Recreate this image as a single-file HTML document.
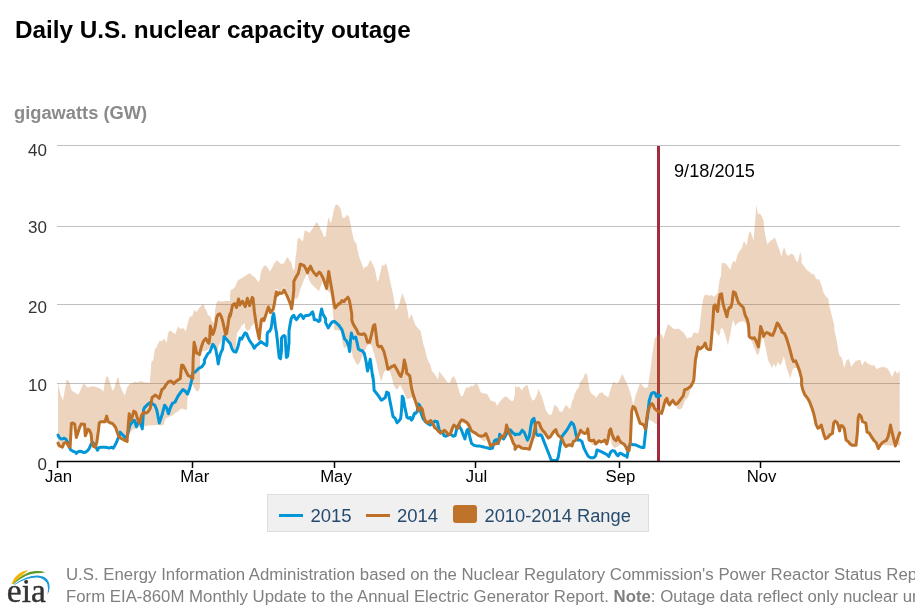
<!DOCTYPE html>
<html><head><meta charset="utf-8">
<style>
html,body{margin:0;padding:0;background:#fff;}
body{width:915px;height:610px;overflow:hidden;position:relative;font-family:"Liberation Sans",sans-serif;}
#wrap{position:absolute;left:0;top:0;width:915px;height:610px;opacity:0.999;will-change:transform;}
.t{position:absolute;white-space:nowrap;}
#title{left:15px;top:16px;font-size:24.3px;font-weight:bold;color:#000;}
#unit{left:14px;top:102px;font-size:18.3px;font-weight:bold;color:#8a8a8a;}
.yl{position:absolute;right:869px;font-size:17px;color:#333;text-align:right;}
.xl{position:absolute;top:466px;font-size:17px;color:#000;}
#legend{position:absolute;left:267px;top:494px;width:382px;height:38px;background:#f0f0f0;border:1px solid #dedede;box-sizing:border-box;}
.lg{position:absolute;font-size:18.5px;color:#274b6d;top:10px;}
#foot{position:absolute;left:66px;top:564px;font-size:16.8px;color:#7f7f7f;line-height:22px;white-space:nowrap;}
</style></head><body>
<div id="wrap">
<div class="t" id="title">Daily U.S. nuclear capacity outage</div>
<div class="t" id="unit">gigawatts (GW)</div>
<svg width="915" height="610" style="position:absolute;left:0;top:0">
<g stroke="#c0c0c0" stroke-width="1">
<line x1="57" y1="145.5" x2="900" y2="145.5"/>
<line x1="57" y1="226.5" x2="900" y2="226.5"/>
<line x1="57" y1="304.5" x2="900" y2="304.5"/>
<line x1="57" y1="383.5" x2="900" y2="383.5"/>
</g>
<rect x="657" y="146" width="3" height="316" fill="#a32b3d"/>
<g id="band"><polygon points="58.0,383.3 58.6,386.6 60.7,394.8 62.9,400.5 64.8,389.9 66.5,380.0 67.8,380.0 69.8,383.3 71.4,389.9 73.0,391.5 75.5,393.1 78.0,394.8 79.6,392.3 82.0,386.6 83.7,383.3 85.3,385.0 87.8,387.4 91.1,386.6 94.3,386.6 97.6,387.4 100.9,389.0 103.4,391.5 105.0,381.7 106.6,375.9 108.3,377.6 110.7,385.0 112.4,390.7 114.0,389.0 115.7,383.3 117.3,378.4 118.6,377.6 119.8,385.0 122.2,390.7 124.7,395.6 127.1,387.4 129.6,384.1 132.0,383.3 135.3,381.7 137.8,382.5 140.2,380.9 142.7,381.7 145.2,382.5 147.6,382.5 149.8,383.3 151.4,362.0 153.3,360.0 154.8,349.2 156.2,347.7 158.2,343.3 159.7,340.8 161.1,341.3 162.6,340.3 164.1,338.4 165.6,341.3 166.6,342.8 168.0,333.4 169.5,330.5 171.5,331.5 173.4,332.9 175.4,333.9 176.9,329.5 178.4,326.6 179.8,328.5 181.3,329.0 182.8,327.5 184.3,329.5 185.7,331.5 187.2,325.6 188.7,319.7 190.2,315.7 191.1,316.7 192.6,315.7 193.6,311.8 194.6,309.8 196.1,312.3 197.5,310.8 199.0,308.4 201.0,305.9 202.5,303.9 203.9,304.9 205.4,308.9 206.9,311.8 207.9,314.8 209.3,315.7 210.8,317.2 212.3,321.6 213.8,322.6 215.2,309.8 216.2,303.9 217.2,301.5 218.7,301.0 221.6,301.5 224.6,301.0 228.5,301.0 230.0,301.0 230.0,294.4 230.7,290.5 232.0,289.2 233.9,288.5 235.9,285.2 237.2,281.3 238.5,280.0 250.0,273.1 252.0,275.6 253.9,276.6 255.9,278.5 258.4,282.5 259.8,279.5 260.8,272.6 262.3,268.7 263.8,266.2 265.7,265.2 267.7,267.7 269.7,271.6 271.6,268.7 273.6,264.8 275.6,261.8 277.0,260.3 278.5,261.8 280.5,263.8 283.4,263.8 284.9,261.8 286.4,257.9 287.9,257.4 289.3,259.8 291.3,262.8 293.3,270.7 294.8,267.7 295.7,255.9 296.7,250.0 296.7,248.3 297.5,239.6 298.9,237.6 300.8,239.6 302.8,241.6 304.8,230.4 306.7,231.1 309.3,233.0 311.3,230.4 313.9,226.5 316.6,221.9 318.5,224.5 320.5,229.1 322.5,233.0 323.8,237.0 325.7,236.3 327.0,226.5 328.4,217.3 329.7,220.6 330.3,223.2 331.6,221.2 333.6,210.7 335.6,204.8 337.5,204.8 339.5,206.8 340.0,208.8 340.0,206.8 341.3,212.0 342.6,218.0 344.6,218.0 346.6,215.3 347.9,215.3 349.2,217.3 350.5,223.9 351.8,230.4 353.1,237.0 354.4,240.9 356.4,243.5 357.7,251.4 357.7,250.0 359.0,256.6 361.0,261.8 363.6,269.0 364.9,267.0 366.9,266.4 368.2,264.4 370.2,259.8 372.1,263.1 374.8,268.4 376.1,274.9 377.4,282.1 378.7,279.5 380.7,271.0 382.0,265.1 383.9,265.7 385.9,263.1 387.2,267.0 389.2,276.2 391.1,285.4 393.1,294.6 394.4,302.5 395.7,310.3 397.7,307.7 399.7,302.5 402.3,293.3 404.3,298.5 406.2,303.8 407.5,310.3 408.9,319.5 411.5,314.3 411.6,314.6 411.6,314.4 412.6,317.0 414.6,323.6 417.2,327.5 420.5,330.8 421.8,336.7 423.1,343.3 425.1,349.8 427.0,357.7 428.4,361.6 430.3,364.3 431.5,368.9 431.5,370.0 433.4,372.6 435.4,375.2 438.0,379.2 439.3,371.3 441.3,373.9 443.9,377.2 445.9,379.8 447.9,383.1 449.8,382.5 451.8,377.9 453.8,375.9 455.7,379.8 457.7,385.7 459.7,393.0 461.0,396.2 463.0,395.6 464.9,390.3 466.9,387.0 468.9,387.7 470.8,385.7 472.8,386.4 474.8,384.4 476.7,383.1 478.7,387.0 480.7,392.3 483.3,393.6 486.6,393.6 488.5,396.2 490.5,400.2 493.1,401.5 495.1,401.5 497.0,406.1 499.0,402.8 501.0,400.2 503.6,397.5 505.6,396.2 507.5,397.5 509.5,399.5 512.1,401.5 513.4,400.2 515.0,393.9 515.0,385.7 517.0,387.6 518.9,386.3 521.6,390.2 523.5,387.6 525.5,385.7 527.5,385.0 528.8,390.2 530.7,396.8 532.7,400.7 534.7,399.4 536.6,395.5 538.6,388.9 539.9,392.2 541.9,396.8 543.9,403.4 545.8,409.9 547.8,413.2 549.8,415.2 551.7,413.9 553.0,409.9 554.3,404.7 557.0,406.6 559.6,411.2 562.2,411.9 564.2,408.0 566.1,404.7 568.1,407.3 570.1,409.3 572.0,402.0 573.1,398.5 573.1,400.7 574.4,394.8 576.4,390.2 578.4,388.2 580.3,381.6 581.6,380.3 583.6,377.7 584.9,373.8 586.9,373.8 588.2,381.6 589.5,389.5 590.8,392.8 592.8,394.8 594.8,396.1 596.1,398.0 598.0,394.8 600.0,392.8 600.0,393.0 602.3,392.3 604.6,394.9 608.2,397.5 609.8,392.3 611.5,386.4 613.1,382.1 615.7,383.1 617.4,383.8 619.0,381.1 621.0,376.6 622.3,373.9 623.9,377.2 626.2,382.1 628.2,386.4 630.2,392.3 632.1,399.5 633.4,405.4 634.4,400.8 635.7,394.9 637.7,389.7 639.3,385.1 640.7,383.1 642.0,385.1 643.9,387.4 645.9,388.0 647.5,387.4 648.5,383.1 649.5,375.2 650.2,370.0 650.2,371.8 650.5,369.8 651.8,358.0 653.1,348.9 654.4,339.7 655.7,337.0 657.7,335.7 659.7,334.4 660.0,334.3 660.0,333.8 662.0,335.1 663.3,339.0 665.2,332.5 667.2,325.9 668.5,323.9 670.5,325.9 673.1,328.5 675.7,329.2 678.4,328.5 681.0,330.5 683.6,332.5 685.6,335.7 687.5,339.0 689.5,337.0 691.5,337.7 693.4,333.1 695.4,332.5 698.0,333.8 699.3,329.8 700.7,316.7 702.0,306.2 703.3,298.4 705.2,294.4 707.2,295.1 709.8,295.7 711.8,295.1 713.8,297.0 715.1,295.7 717.7,293.1 719.7,279.3 721.0,275.7 721.6,263.2 724.3,262.9 726.2,263.9 728.2,266.5 730.4,269.8 732.1,263.2 733.8,260.6 735.4,262.5 737.4,255.3 739.3,251.4 742.0,248.1 743.9,240.9 745.2,242.9 746.6,245.5 747.9,238.3 749.4,231.1 751.1,233.0 752.5,237.0 753.5,241.6 755.1,221.2 756.4,204.8 757.7,213.4 760.3,214.0 762.3,217.3 763.6,221.2 764.3,229.1 765.6,237.0 767.5,244.8 769.5,241.6 771.5,240.2 773.4,238.9 774.8,237.6 776.1,240.9 778.0,246.1 780.0,251.4 781.6,256.6 782.6,251.4 784.2,246.8 785.9,252.7 787.9,256.0 789.8,254.7 791.8,253.4 793.8,255.3 795.7,259.9 797.7,262.5 799.0,257.3 800.3,252.0 801.5,257.2 801.5,262.6 804.1,266.6 806.7,269.8 809.3,271.8 812.0,274.4 813.9,273.8 815.9,278.4 817.2,279.7 818.5,278.4 819.8,281.0 821.8,286.2 823.1,291.5 825.1,295.4 827.0,297.4 828.4,298.7 829.0,304.6 830.3,309.8 832.3,317.7 834.3,325.6 834.3,330.0 835.6,335.2 836.9,341.8 838.2,349.7 839.5,355.6 841.5,357.5 842.8,361.5 844.1,368.0 845.4,364.1 846.7,360.2 848.7,358.9 850.0,362.8 851.3,366.7 853.3,364.1 855.0,361.8 855.0,361.5 857.0,360.5 859.9,359.5 860.9,361.5 862.2,365.7 863.5,363.1 865.2,360.5 866.5,362.5 868.1,363.8 870.7,365.1 872.4,365.7 874.0,364.4 875.0,366.4 876.3,368.7 878.0,368.4 879.9,367.4 882.5,367.0 885.8,367.4 887.8,368.7 889.1,371.0 890.7,374.3 892.4,376.9 893.7,373.6 895.0,370.3 896.3,372.3 897.6,373.9 898.9,371.6 899.7,371.0 899.7,446.0 898.0,445.3 896.6,443.4 895.3,446.6 894.0,440.7 892.7,445.6 889.4,445.6 885.5,445.3 882.2,444.7 880.2,446.0 878.3,449.3 876.3,443.4 873.7,440.7 871.1,436.8 869.1,433.5 867.1,432.9 865.8,423.7 864.5,423.0 862.5,422.4 861.2,417.1 859.3,415.2 858.2,418.4 857.3,434.2 856.0,446.0 854.0,446.0 852.0,446.0 850.1,444.7 848.1,442.0 846.1,440.7 844.2,428.9 842.2,426.3 840.6,426.3 839.6,431.6 838.3,426.3 837.0,423.0 835.0,421.7 833.7,423.7 832.4,434.2 829.8,435.5 827.8,438.1 825.4,439.4 823.9,435.5 822.5,430.2 821.2,425.7 819.9,427.6 818.0,428.9 816.0,425.0 814.7,418.4 813.4,413.2 811.4,407.3 809.4,402.0 807.5,398.8 804.8,395.5 802.9,390.9 801.6,385.7 801.6,383.8 800.8,379.8 798.9,372.0 796.9,368.0 794.9,368.0 793.0,368.7 791.6,373.3 790.3,378.5 789.0,374.6 787.0,369.3 785.1,361.5 783.8,356.2 781.8,362.8 779.8,365.4 777.9,361.5 775.9,367.4 773.9,363.4 772.0,368.0 770.0,363.4 768.2,360.7 766.2,350.8 764.3,341.6 763.0,337.0 761.6,340.3 760.3,348.2 758.4,354.8 756.7,354.1 754.4,348.2 751.8,341.6 749.2,337.7 747.6,328.5 745.9,323.3 743.9,320.9 740.0,321.7 737.4,323.3 735.4,325.9 733.2,320.0 731.9,324.6 730.2,335.1 727.9,345.6 725.6,336.4 723.0,329.2 721.0,327.9 719.7,335.1 718.4,335.7 715.7,331.1 713.8,329.8 712.5,335.1 710.5,350.8 707.2,350.2 705.2,345.6 702.0,349.5 699.3,350.2 698.0,353.4 693.8,380.3 692.5,384.2 690.5,389.4 689.2,394.4 687.2,398.4 685.2,399.7 683.9,403.0 682.0,408.2 679.3,409.5 677.4,408.6 675.4,405.2 672.8,401.2 670.2,405.2 667.5,403.9 665.6,401.2 663.6,409.1 661.6,414.1 659.7,413.4 657.3,423.3 655.7,423.9 653.1,422.0 651.1,420.7 649.2,419.3 647.2,422.0 645.9,429.6 643.9,425.9 640.0,424.6 635.0,408.6 633.0,407.3 631.7,411.9 630.4,442.0 629.1,451.2 627.1,450.6 623.9,444.7 621.2,443.4 618.0,446.6 614.7,448.0 612.0,445.3 609.4,431.6 606.8,444.7 604.8,440.7 598.9,441.4 595.7,444.7 592.4,444.7 589.1,440.7 587.8,429.6 584.5,434.2 580.6,430.9 577.3,438.1 573.4,442.0 570.1,445.3 566.1,447.3 564.2,444.7 560.2,437.5 555.9,430.2 552.4,434.2 548.4,438.8 546.5,436.1 545.2,434.8 543.2,434.8 541.2,435.5 538.0,436.8 536.0,437.5 534.0,438.8 531.4,443.4 529.4,449.9 524.2,449.3 518.9,446.6 515.0,449.9 515.0,446.0 512.8,443.4 508.9,433.0 506.2,430.3 503.6,438.2 499.7,440.8 494.4,445.4 490.5,447.4 487.2,439.5 483.9,441.5 478.7,436.9 473.4,434.3 469.5,429.0 465.6,423.8 461.6,422.5 459.0,427.7 455.1,427.7 451.1,434.3 447.2,434.3 443.3,433.0 439.3,433.0 435.4,429.0 431.5,422.5 426.2,423.1 423.6,417.2 421.0,409.3 417.7,410.7 415.1,402.1 412.5,397.5 409.8,398.2 407.2,399.5 403.9,392.3 400.0,384.4 400.0,384.6 399.7,384.9 398.4,388.2 396.4,389.5 393.8,385.6 391.8,377.7 389.8,371.1 387.9,369.8 385.2,370.5 383.3,373.8 381.6,381.6 380.7,379.7 378.7,372.5 376.1,360.7 373.4,351.5 371.5,344.9 368.9,344.3 366.9,346.2 364.3,352.1 361.6,358.0 359.7,362.6 357.7,365.2 355.7,362.6 353.1,357.4 351.1,348.9 348.5,345.6 345.9,346.9 343.9,348.2 342.0,339.7 340.7,330.5 334.1,330.0 333.4,318.2 332.5,309.0 331.5,299.8 330.2,293.3 327.5,290.7 325.6,289.3 323.8,284.8 323.8,279.5 321.8,283.4 319.8,288.4 318.9,291.3 316.9,289.3 313.9,286.4 311.0,283.4 309.0,279.5 307.5,274.6 306.1,275.6 304.1,279.5 302.1,284.4 300.2,289.3 298.2,297.2 296.2,299.2 293.3,297.2 291.6,306.0 289.6,297.5 287.6,293.1 285.7,289.2 284.2,286.7 282.2,293.1 279.8,291.2 276.3,288.7 274.8,290.0 273.2,309.2 270.6,311.9 268.9,306.6 266.2,313.6 263.6,319.7 261.0,318.9 259.2,339.0 256.5,325.0 256.2,324.1 256.2,322.0 254.9,323.3 253.0,324.6 251.6,325.9 249.7,329.8 247.7,331.1 246.4,329.8 245.0,327.8 245.0,323.3 242.0,325.2 239.4,329.8 237.1,333.1 236.4,338.4 235.8,348.9 234.1,349.5 230.8,344.9 227.6,339.0 224.3,335.7 223.0,337.7 221.0,341.7 219.0,344.9 217.1,350.8 215.1,347.6 211.8,345.6 206.6,350.8 200.0,351.5 200.0,386.2 199.3,389.5 198.0,391.5 196.1,390.8 194.1,387.5 192.8,384.9 190.8,385.6 188.2,386.2 187.5,399.3 186.9,409.8 184.3,409.6 181.6,408.5 179.7,409.8 177.7,411.8 175.1,413.1 173.1,415.1 171.8,415.7 169.8,416.4 167.2,417.7 165.2,419.0 163.9,424.3 162.0,425.6 158.0,424.9 154.1,425.3 150.2,425.6 148.2,425.6 144.9,426.2 141.0,426.9 137.0,427.5 134.4,428.9 131.8,430.2 129.8,433.4 127.9,438.7 125.2,438.7 120.0,438.7 120.0,438.3 118.9,437.2 117.3,433.1 115.7,428.2 114.0,425.8 112.4,424.1 109.9,423.3 108.3,422.5 106.6,416.8 105.0,422.5 103.4,422.5 100.9,422.5 99.3,423.3 98.4,431.5 96.8,443.0 95.2,447.9 93.5,447.1 91.9,443.0 91.1,434.8 89.4,430.7 87.8,429.9 86.1,434.8 85.3,436.4 84.5,425.0 82.9,425.0 81.2,424.6 79.6,428.2 78.0,433.1 76.3,438.1 74.7,425.0 73.0,423.6 71.4,424.1 70.1,447.9 68.9,447.1 67.3,444.6 65.7,443.0 64.0,443.8 62.4,447.9 60.7,447.1 59.1,446.3 58.0,443.8" fill="#c07028" fill-opacity="0.3"/></g>
<g id="l2015"><polyline points="58.0,435.0 59.1,437.4 60.7,438.7 62.4,439.0 64.0,438.2 65.7,439.0 67.3,441.5 68.9,446.4 70.6,449.7 73.0,451.3 75.5,452.2 76.3,453.5 78.0,451.8 80.4,451.3 82.0,451.8 83.7,452.5 85.3,452.2 87.8,450.5 89.4,448.1 91.1,444.0 92.7,442.3 94.3,444.8 96.0,447.2 97.6,450.2 98.9,447.6 100.9,447.2 104.2,447.2 107.5,447.6 109.1,448.1 111.6,447.2 113.2,448.1 114.8,445.6 116.5,442.3 118.1,438.2 119.8,434.1 120.0,433.9 120.0,432.1 122.6,434.8 125.2,437.4 127.2,436.1 129.8,425.6 132.5,421.6 134.4,420.3 136.4,426.9 138.4,421.6 141.0,424.3 142.3,428.9 143.6,409.8 144.3,407.9 146.2,405.9 148.2,403.9 150.2,402.6 152.8,403.9 154.8,405.2 156.7,409.8 159.3,423.0 162.0,415.1 164.6,405.2 166.6,407.9 168.5,413.8 170.5,407.2 172.5,403.3 175.1,402.0 177.7,396.7 180.3,392.8 183.0,389.5 185.6,391.5 187.5,394.1 189.5,388.9 191.5,381.0 192.8,373.1 195.4,371.8 198.7,368.5 202.0,366.6 203.9,363.9 204.4,363.0 204.4,360.0 204.9,359.0 207.9,353.6 209.8,352.1 211.3,348.2 212.8,344.3 214.3,346.2 215.7,349.2 217.2,357.0 218.2,363.9 219.5,357.0 221.1,352.1 222.6,349.2 224.1,336.4 225.6,338.4 227.5,340.3 229.0,342.3 230.0,343.3 230.0,342.9 232.0,348.9 233.9,351.5 235.9,352.1 237.9,346.9 239.8,339.0 240.0,338.9 240.0,338.1 241.7,339.0 243.5,335.5 245.2,332.8 246.6,333.7 247.9,337.2 249.6,340.7 250.3,341.6 252.3,344.3 254.3,348.2 256.2,345.6 258.2,344.3 260.8,341.6 262.8,343.0 264.8,344.3 266.7,345.6 267.1,342.1 267.1,334.6 268.0,332.0 269.7,331.1 271.0,328.5 271.9,323.2 272.8,316.2 273.7,313.6 274.5,318.9 275.4,326.7 276.7,333.7 276.7,335.7 277.2,339.0 279.2,357.4 280.5,358.7 281.5,350.4 281.5,338.1 282.8,336.3 284.2,335.5 285.0,337.2 285.0,336.4 285.1,336.4 286.4,357.4 287.7,356.1 289.0,342.7 289.0,331.1 290.3,323.2 291.1,318.9 292.5,316.2 293.8,315.4 295.1,318.0 296.4,319.7 297.7,318.0 299.5,315.4 300.8,314.5 302.1,316.2 303.4,318.4 304.7,316.2 306.4,315.4 308.2,315.4 309.9,314.9 311.7,312.7 312.6,311.9 313.4,314.5 314.3,319.7 315.6,319.7 316.9,320.2 318.7,321.5 320.0,320.6 320.0,317.0 320.3,315.6 321.6,309.0 323.0,314.3 324.9,317.5 325.6,318.9 325.6,322.6 328.2,327.9 330.2,324.6 332.1,322.0 334.1,321.3 336.7,323.3 339.3,325.9 342.0,329.8 343.3,334.4 344.6,339.0 346.6,341.0 348.5,345.6 349.6,351.5 350.5,339.7 351.4,333.1 352.5,337.0 353.8,338.4 355.7,337.0 357.0,342.3 358.4,348.9 360.3,350.2 362.3,350.8 364.3,353.4 366.2,362.0 367.5,371.1 368.9,365.9 370.2,359.3 371.5,368.5 372.7,377.1 372.7,375.0 373.6,382.2 374.1,390.3 376.3,393.0 379.0,396.6 381.3,400.2 383.5,398.9 385.3,397.5 386.7,392.1 388.5,393.0 389.8,400.2 391.6,409.3 393.0,416.5 395.2,418.3 397.1,422.8 398.9,421.0 400.7,418.3 401.6,409.3 402.3,396.2 403.4,398.4 404.7,406.6 406.1,412.9 407.0,417.4 408.8,418.3 410.1,417.4 411.5,420.1 412.8,418.3 414.2,413.8 415.0,412.9 415.0,414.0 415.7,413.3 417.0,412.0 418.4,404.1 419.7,405.4 421.0,413.3 423.0,418.5 425.6,421.8 428.2,423.8 430.2,425.1 432.1,423.8 434.8,421.1 437.4,421.8 439.3,430.3 440.7,433.0 442.6,431.6 443.9,435.6 445.9,436.2 448.5,434.9 451.1,434.3 453.1,436.2 455.1,435.6 457.0,427.7 458.4,425.1 461.0,429.0 463.0,434.3 464.9,438.9 466.9,430.3 468.2,429.0 469.5,435.6 471.5,443.4 474.1,445.4 477.4,446.1 480.0,446.1 482.6,446.7 485.2,447.4 487.9,448.0 490.5,448.7 492.5,448.0 494.4,440.8 496.4,439.5 498.4,443.4 499.7,434.3 501.6,436.9 503.6,438.9 505.6,435.6 506.9,433.0 508.9,429.7 510.8,430.3 512.8,433.0 515.0,434.1 515.0,434.8 517.0,434.2 519.6,434.2 522.2,430.2 524.2,432.2 526.1,436.8 527.5,440.1 529.4,436.1 530.7,427.0 532.0,420.4 534.0,418.4 535.3,425.7 536.0,433.5 538.0,435.5 540.6,434.8 541.9,436.1 543.9,441.4 546.5,448.0 549.1,454.5 551.1,459.8 553.0,460.4 555.0,460.4 557.0,460.4 558.3,457.1 559.6,449.3 560.9,441.4 562.2,436.1 564.2,433.5 566.8,430.2 569.4,425.7 571.4,422.4 573.4,424.3 574.7,428.3 576.0,434.8 578.0,440.1 579.9,440.1 581.9,441.4 583.9,448.0 586.5,453.2 588.4,456.5 591.1,457.8 593.7,457.8 595.7,455.8 597.0,449.9 598.9,450.6 601.6,451.9 604.2,453.2 606.8,454.5 608.8,456.5 610.7,451.9 612.7,450.6 614.7,451.2 616.6,454.5 618.0,455.8 619.9,453.2 621.9,453.9 623.9,455.2 625.8,455.8 627.1,457.1 628.4,448.0 630.4,444.0 633.0,444.7 635.0,444.7 640.0,446.9 642.0,447.5 643.9,447.5 645.2,435.1 646.6,423.3 647.9,412.8 649.2,401.0 650.5,396.4 651.8,393.1 653.8,392.5 655.1,393.1 656.4,396.4 657.7,397.0 659.0,395.1 660.3,395.7" fill="none" stroke="#0096d7" stroke-width="3" stroke-linejoin="round" stroke-linecap="round"/></g>
<g id="l2014"><polyline points="58.0,443.1 59.1,445.6 60.7,446.4 62.4,447.2 64.0,443.1 65.7,442.3 67.3,444.0 68.9,446.4 70.1,447.2 71.4,423.5 73.0,423.0 74.7,424.3 76.3,437.4 78.0,432.5 79.6,427.6 81.2,424.0 82.9,424.3 84.5,424.3 85.3,435.8 86.1,434.1 87.8,429.2 89.4,430.0 91.1,434.1 91.9,442.3 93.5,446.4 95.2,447.2 96.8,442.3 98.4,430.9 99.3,422.7 100.9,421.8 103.4,421.8 105.0,421.8 106.6,416.1 108.3,421.8 109.9,422.7 112.4,423.5 114.0,425.1 115.7,427.6 117.3,432.5 118.9,436.6 120.6,438.2 122.2,439.0 123.9,439.9 125.5,440.7 127.1,441.5 127.2,440.8 127.2,438.7 129.2,413.8 131.1,420.3 133.8,411.1 135.7,412.5 138.4,421.6 139.7,423.0 141.6,415.1 143.6,412.5 146.2,413.1 148.2,411.8 150.2,408.5 152.1,397.4 155.4,395.1 157.4,396.7 159.3,398.3 162.0,389.5 163.9,388.2 165.9,384.9 168.5,381.6 171.1,381.0 173.8,383.6 176.4,381.0 180.3,378.4 181.6,365.2 183.0,365.2 185.6,370.5 188.2,375.7 191.5,377.0 192.8,378.4 193.1,360.0 194.1,342.3 195.6,348.2 196.6,353.1 198.0,353.6 199.5,354.6 201.0,348.2 202.9,342.3 204.4,339.8 205.9,338.4 207.9,342.3 208.9,343.3 209.8,337.4 210.3,326.1 211.3,329.5 212.8,334.4 214.3,330.5 215.7,324.6 216.7,317.7 218.2,314.3 219.7,313.8 221.1,316.2 222.6,320.7 224.1,327.5 225.6,334.4 226.6,333.4 228.0,324.6 229.0,317.7 230.0,313.8 230.0,316.7 230.7,314.1 232.6,304.9 234.6,303.6 236.6,307.5 238.5,299.0 240.0,304.4 240.0,304.9 241.3,302.2 242.6,301.4 243.9,304.0 245.2,306.6 246.6,301.4 247.4,298.3 248.7,303.1 249.6,305.7 250.9,301.4 252.2,297.4 253.1,298.7 254.4,311.9 256.6,326.7 258.4,335.5 259.2,339.0 260.5,326.7 261.4,319.7 262.7,318.9 264.0,320.6 265.4,316.2 267.1,311.0 268.4,307.0 269.7,310.1 270.6,312.7 271.9,311.0 273.2,309.2 274.5,303.1 275.4,297.0 276.3,291.7 277.6,295.2 279.3,292.6 281.1,293.5 282.8,292.6 284.2,290.0 285.5,292.6 287.2,296.1 289.0,300.5 290.7,304.9 291.6,308.8 292.5,303.1 293.3,295.2 293.8,290.0 293.8,281.5 294.8,279.5 296.2,276.6 298.2,273.6 299.2,269.7 300.2,264.3 302.1,264.8 304.1,265.7 305.6,268.2 307.5,272.6 309.0,268.7 310.5,266.2 312.0,269.7 313.9,272.6 316.4,275.6 317.9,273.6 319.3,272.1 320.8,273.6 323.3,278.5 325.2,284.4 326.7,288.4 327.7,279.5 328.7,271.6 330.2,280.5 332.1,291.3 333.6,301.1 335.1,308.0 336.6,306.1 338.5,304.1 340.0,303.1 340.0,303.8 342.0,300.5 343.9,301.8 345.9,299.2 347.9,297.2 349.2,299.8 350.5,306.4 351.8,314.3 351.8,320.0 353.1,323.9 355.1,327.2 357.0,330.5 358.4,333.8 361.0,334.4 364.3,333.8 365.6,335.7 367.5,342.3 369.5,342.3 371.5,334.4 373.4,325.9 374.8,324.6 376.1,334.4 377.4,344.9 379.3,346.9 381.3,346.2 383.9,351.5 385.9,359.3 387.9,369.2 389.8,367.9 391.8,366.6 394.4,365.2 397.0,369.8 399.7,375.1 401.0,376.4 403.0,369.8 404.3,360.0 405.6,365.2 406.6,370.7 406.6,373.3 408.5,374.6 409.8,375.9 411.1,385.7 412.5,392.3 414.4,398.2 416.4,404.1 418.4,410.7 419.7,409.3 421.0,407.4 422.3,409.3 423.6,415.9 425.6,421.8 428.2,422.5 430.8,420.5 432.8,423.8 434.8,427.7 436.7,429.0 438.7,431.6 440.7,433.0 442.6,431.6 444.6,430.3 446.6,432.3 448.5,434.9 450.5,433.6 452.5,427.7 453.8,425.1 455.7,426.4 457.7,428.4 459.7,422.5 461.6,419.8 463.6,420.5 465.6,421.8 467.5,423.1 469.5,426.4 471.5,431.0 474.1,432.3 476.1,433.6 478.7,435.6 481.3,436.2 483.9,435.6 485.9,433.6 487.9,438.2 490.5,446.1 491.8,444.8 494.4,444.1 497.7,443.4 499.7,439.5 501.6,436.2 503.6,436.9 505.6,431.6 506.5,425.1 507.5,427.7 509.5,433.6 511.5,438.2 513.4,443.4 515.0,445.5 515.0,449.3 517.0,446.6 518.9,446.0 521.6,448.0 524.2,448.6 526.8,448.6 529.4,449.3 531.4,442.7 533.4,436.1 534.7,429.6 536.0,423.0 538.0,422.4 539.3,423.0 540.6,427.0 542.5,430.2 544.5,432.2 546.5,435.5 548.4,438.1 550.4,436.8 552.4,433.5 554.3,430.9 555.9,429.6 557.0,433.5 558.3,435.5 560.2,436.8 562.2,439.4 564.2,444.0 566.1,446.6 568.1,445.3 570.1,444.7 572.0,446.0 573.4,441.4 575.3,440.7 577.3,437.5 579.3,433.5 580.6,430.2 582.5,432.2 584.5,433.5 586.5,432.9 587.8,428.9 589.1,440.1 591.1,440.7 593.7,440.1 595.7,444.0 597.0,442.7 598.9,440.7 600.9,442.0 602.9,441.4 604.8,440.1 606.8,444.0 608.1,438.8 609.4,430.9 610.7,428.9 612.0,434.2 614.0,438.8 616.0,440.7 618.0,436.8 619.3,440.1 621.2,442.7 623.9,444.0 625.8,446.6 627.1,449.9 629.1,450.6 630.4,441.4 631.7,411.2 633.0,406.6 635.0,408.0 640.0,423.3 642.0,423.9 643.9,425.2 645.5,429.2 646.6,419.3 647.9,411.5 649.8,406.2 651.8,403.6 653.1,404.9 654.4,408.2 656.4,410.2 658.4,411.5 660.3,412.1 661.6,413.4 663.0,408.9 664.3,403.6 665.6,399.7 666.9,398.4 668.2,403.0 669.5,404.9 670.8,403.0 672.8,400.3 674.1,402.3 675.4,404.3 677.4,403.6 679.3,401.0 681.3,398.4 683.3,395.7 684.6,389.8 686.6,389.2 688.5,387.9 690.5,386.6 691.8,384.6 693.1,382.0 693.8,380.0 695.4,360.0 696.7,353.4 698.0,346.9 700.0,348.9 702.0,347.5 703.9,345.6 705.2,343.0 706.6,348.2 708.5,349.5 710.5,349.5 711.8,335.1 713.1,318.0 713.8,306.2 715.1,304.9 716.4,308.9 717.7,311.5 719.0,299.7 720.1,294.4 721.6,293.8 723.0,303.6 724.9,310.2 726.9,316.7 728.2,310.2 729.5,307.5 730.8,307.5 732.1,302.3 733.4,291.8 735.4,293.1 737.4,299.7 738.7,303.0 741.3,305.6 743.3,307.5 745.2,315.4 747.2,319.3 748.5,324.6 749.2,336.4 750.5,337.7 752.5,338.4 754.4,337.7 756.4,341.6 758.4,346.9 759.7,335.1 760.6,326.6 762.3,331.1 763.6,336.4 764.9,333.8 766.9,332.5 769.5,333.8 770.0,334.0 770.0,334.8 772.6,335.4 774.6,330.8 777.2,323.0 778.5,324.3 780.5,328.2 781.8,330.4 781.8,332.0 784.4,333.3 786.4,337.9 788.4,344.4 790.3,351.0 792.3,358.9 793.6,361.5 795.6,360.8 797.5,365.4 799.5,370.7 801.5,378.5 801.6,379.7 801.6,385.0 802.9,390.2 804.8,394.8 807.5,398.1 809.4,401.4 811.4,406.6 813.4,412.5 814.7,417.8 816.0,424.3 818.0,428.3 819.9,427.0 821.2,425.0 822.5,429.6 823.9,434.8 825.4,438.8 827.8,437.5 829.8,434.8 832.4,433.5 833.7,423.0 835.0,421.1 837.0,422.4 838.3,425.7 839.6,430.9 840.6,425.7 842.2,425.7 844.2,428.3 846.1,440.1 848.1,441.4 850.1,444.0 852.0,445.3 854.0,445.3 856.0,445.3 857.3,433.5 858.2,417.8 859.3,414.5 861.2,416.5 862.5,421.7 864.5,422.4 865.8,423.0 867.1,432.2 869.1,432.9 871.1,436.1 873.7,440.1 876.3,442.7 878.3,448.6 880.2,445.3 882.2,442.7 884.2,441.4 886.1,440.7 888.1,436.8 889.4,430.9 890.5,425.0 892.0,432.2 894.0,440.1 895.3,446.0 896.6,442.7 898.0,437.5 899.7,432.9" fill="none" stroke="#bd7028" stroke-width="3" stroke-linejoin="round" stroke-linecap="round"/></g>
<g stroke="#000" stroke-width="1.5">
<line x1="57" y1="461.5" x2="900" y2="461.5"/>
<line x1="57.5" y1="461" x2="57.5" y2="468"/>
<line x1="192.5" y1="461" x2="192.5" y2="468"/>
<line x1="334.5" y1="461" x2="334.5" y2="468"/>
<line x1="475.5" y1="461" x2="475.5" y2="468"/>
<line x1="619.5" y1="461" x2="619.5" y2="468"/>
<line x1="760.5" y1="461" x2="760.5" y2="468"/>
</g>
<g font-family="Liberation Sans" font-size="17" fill="#333" text-anchor="end">
<text x="47" y="156">40</text>
<text x="47" y="233">30</text>
<text x="47" y="312.5">20</text>
<text x="47" y="390.5">10</text>
<text x="47" y="469.6">0</text>
</g>
<g font-family="Liberation Sans" font-size="16.8" fill="#000" text-anchor="middle">
<text x="58.6" y="482">Jan</text>
<text x="194.8" y="482">Mar</text>
<text x="336" y="482">May</text>
<text x="476.6" y="482">Jul</text>
<text x="620.5" y="482">Sep</text>
<text x="761.6" y="482">Nov</text>
</g>
<text x="674" y="177" font-family="Liberation Sans" font-size="18.2" fill="#000">9/18/2015</text>
</svg>
<div id="legend">
<div style="position:absolute;left:11.4px;top:19px;width:24px;height:3px;background:#0096d7"></div>
<div class="lg" style="left:42.5px">2015</div>
<div style="position:absolute;left:98.4px;top:19px;width:24px;height:3px;background:#bd7028"></div>
<div class="lg" style="left:129px">2014</div>
<div style="position:absolute;left:185px;top:10px;width:24px;height:18px;border-radius:3px;background:#bf7229"></div>
<div class="lg" style="left:216.5px;font-size:18.3px;top:10.2px">2010-2014 Range</div>
</div>
<svg width="60" height="45" viewBox="0 565 60 45" style="position:absolute;left:0;top:565px">
<path d="M11.6,583.6 Q15.5,572 28.6,570 Q21,575.5 12.8,584 Z" fill="#f5b400"/>
<path d="M12.8,584.1 Q24,571.8 35,571 Q41,570.6 45.2,572.2 Q42,573.3 36,573.2 Q25,573.8 13.6,584.3 Z" fill="#5b9b2c"/>
<path d="M14.2,584.5 Q27,575.2 38,575.6 Q49.5,576.6 49.6,587 Q49.3,592 47.6,594.8 Q48.6,589 47.5,584.5 Q44.5,577.6 37,577.4 Q26,577.4 14.9,584.7 Z" fill="#1a9ad8"/>
<text x="6.8" y="601.6" font-family="Liberation Serif" font-size="33.5" fill="#333" stroke="#333" stroke-width="0.4">eia</text>
</svg>
<div id="foot">U.S. Energy Information Administration based on the Nuclear Regulatory Commission's Power Reactor Status Reports and<br>Form EIA-860M Monthly Update to the Annual Electric Generator Report. <b>Note</b>: Outage data reflect only nuclear units</div>
</div>
</body></html>
